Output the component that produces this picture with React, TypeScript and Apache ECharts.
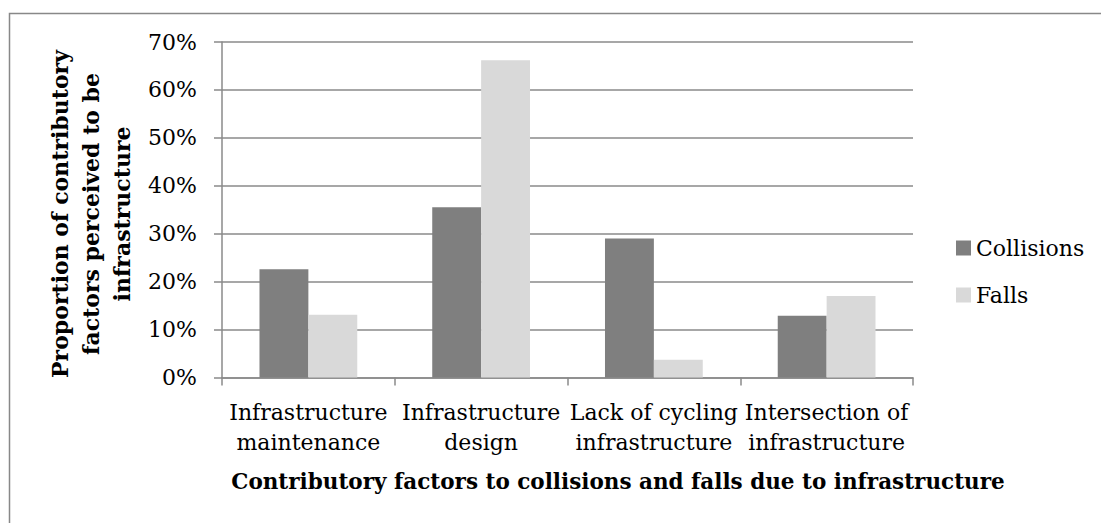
import React, { useEffect, useRef } from "react";
import * as echarts from "echarts";

const categories = [
  "Infrastructure\nmaintenance",
  "Infrastructure\ndesign",
  "Lack of cycling\ninfrastructure",
  "Intersection of\ninfrastructure",
];
const collisions = [22.6, 35.5, 29.0, 12.9];
const falls = [13.1, 66.2, 3.7, 17.0];
const yTicks = { min: 0, max: 70, interval: 10 };
const yTitle = "Proportion of contributory\nfactors perceived to be\ninfrastructure";
const xTitle = "Contributory factors to collisions and falls due to infrastructure";

const FONT = "'DejaVu Serif', serif";

export default function App() {
  const ref = useRef<HTMLDivElement>(null);
  useEffect(() => {
    if (!ref.current) return;
    const chart = echarts.init(ref.current, undefined, { renderer: "svg" });
    chart.setOption({
      animation: false,
      backgroundColor: "#ffffff",
      textStyle: { fontFamily: FONT },
      grid: { left: 222, right: 188, top: 42, bottom: 145.5, containLabel: false },
      legend: {
        orient: "vertical",
        left: 956,
        top: 237,
        padding: 0,
        itemWidth: 15,
        itemHeight: 15,
        itemGap: 25,
        icon: "rect",
        textStyle: { fontFamily: FONT, fontSize: 22, lineHeight: 22, color: "#000" },
        data: ["Collisions", "Falls"],
      },
      xAxis: {
        type: "category",
        data: categories,
        axisLine: { lineStyle: { color: "#8a8a8a", width: 1.5 } },
        axisTick: { show: true, length: 8, lineStyle: { color: "#8a8a8a", width: 1.5 } },
        axisLabel: {
          fontFamily: FONT,
          fontSize: 22,
          color: "#000",
          lineHeight: 30,
          margin: 20,
          interval: 0,
        },
      },
      yAxis: {
        type: "value",
        min: yTicks.min,
        max: yTicks.max,
        interval: yTicks.interval,
        axisLine: { show: true, lineStyle: { color: "#8a8a8a", width: 1.5 } },
        axisTick: { show: true, length: 8, lineStyle: { color: "#8a8a8a", width: 1.5 } },
        splitLine: { lineStyle: { color: "#8a8a8a", width: 1.5 } },
        axisLabel: {
          fontFamily: FONT,
          fontSize: 22,
          color: "#000",
          margin: 25,
          formatter: (v: number) => `${v}%`,
        },
      },
      series: [
        {
          name: "Collisions",
          type: "bar",
          data: collisions,
          itemStyle: { color: "#7f7f7f" },
          barWidth: "28.3%",
          barGap: "0%",
        },
        {
          name: "Falls",
          type: "bar",
          data: falls,
          itemStyle: { color: "#d9d9d9" },
          barWidth: "28.3%",
          barGap: "0%",
        },
      ],
      graphic: [
        {
          type: "rect",
          shape: { x: 9.5, y: 13.5, width: 1200, height: 600 },
          style: { fill: "none", stroke: "#888888", lineWidth: 1.5 },
          silent: true,
          z: -1,
        },
        {
          type: "text",
          x: 91,
          y: 214,
          rotation: Math.PI / 2,
          style: {
            text: yTitle,
            fontFamily: FONT,
            fontWeight: "bold",
            fontSize: 22,
            lineHeight: 31,
            fill: "#000",
            align: "center",
            verticalAlign: "middle",
          },
        },
        {
          type: "text",
          x: 618,
          y: 481,
          style: {
            text: xTitle,
            fontFamily: FONT,
            fontWeight: "bold",
            fontSize: 21.5,
            fill: "#000",
            align: "center",
            verticalAlign: "middle",
          },
        },
      ],
    });
    return () => chart.dispose();
  }, []);
  return (
    <div
      ref={ref}
      style={{ position: "fixed", left: 0, top: 0, width: 1101, height: 523 }}
    />
  );
}
